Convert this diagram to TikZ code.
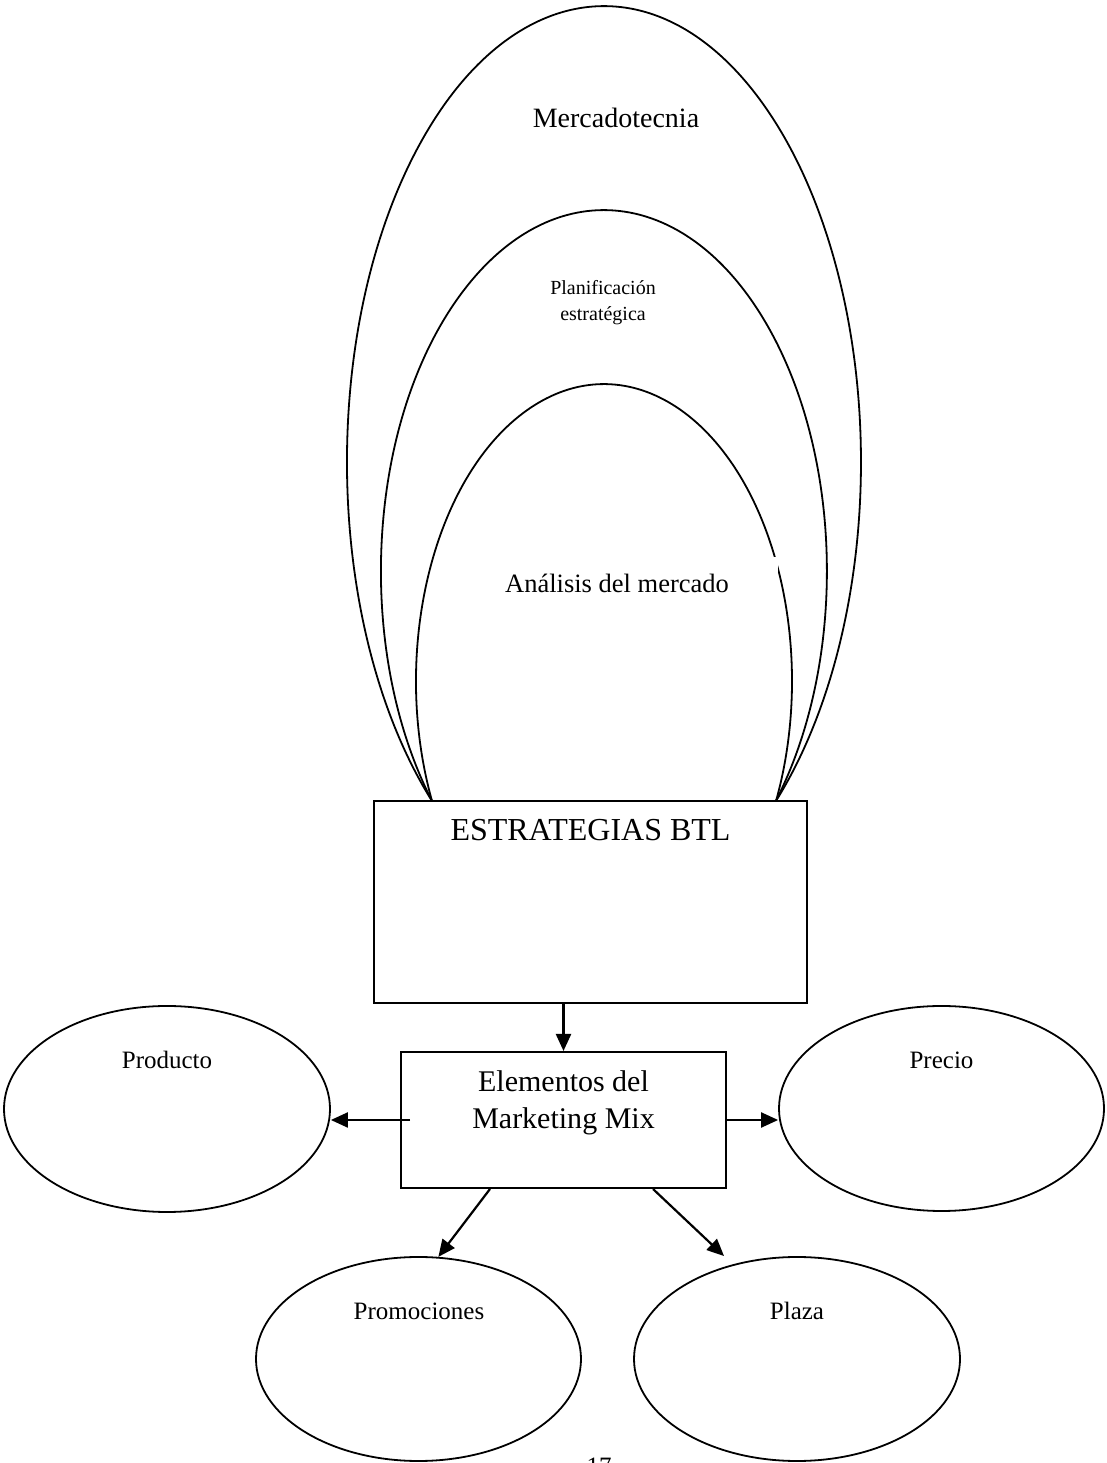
\documentclass[tikz,border=0pt]{standalone}
\usepackage{fontspec}
\setmainfont{Liberation Serif}
\usetikzlibrary{arrows.meta,shapes.geometric,calc}
\begin{document}
\begin{tikzpicture}[x=1pt,y=1pt,
  boxnode/.style={draw, line width=2pt, inner sep=0pt},
  oval/.style={draw, ellipse, line width=1.8pt, inner sep=0pt,
               minimum width=325pt, minimum height=205pt},
  ring/.style={line width=1.8pt},
  txt/.style={anchor=base, inner sep=0pt, font=\fontsize{#1}{#1}\selectfont},
  arr/.style={-{Triangle[length=17pt,width=15pt]}, line width=2.2pt}]
\useasboundingbox (0,0) rectangle (1107,1463);

% central boxes
\node[boxnode, minimum width=433pt, minimum height=202pt] (btl) at (590.5,561) {};
\node[boxnode, minimum width=325pt, minimum height=136pt] (mix) at (563.5,343) {};

% nested arcs resting on the top of the BTL box
\coordinate (footL) at (432,662);
\draw[ring] (footL) arc[start angle=228, end angle=-48, x radius=257, y radius=456];
\draw[ring] (footL) arc[start angle=219.56, end angle=-39.56, x radius=223, y radius=361];
\draw[ring] (footL) arc[start angle=203.8, end angle=-23.8, x radius=188, y radius=297];

% white backing behind the inner label
\fill[white] (460,906) rectangle (778,860);

\node[txt=28] (mkt) at (616,1335) {Mercadotecnia};
\node[anchor=base, inner sep=0pt, align=center, font=\fontsize{20}{25.5}\selectfont]
  (plan) at (603,1142.5) {Planificación\\estratégica};
\node[txt=26.5] (analisis) at (617,870.3) {Análisis del mercado};

\node[txt=32] (btltext) at (590.5,622) {ESTRATEGIAS BTL};
\node[anchor=base, inner sep=0pt, align=center, font=\fontsize{30}{37}\selectfont]
  (mixtext) at (563.5,334) {Elementos del\\Marketing Mix};

% the four elements
\node[oval, minimum width=326pt, minimum height=206pt] (prod) at (167,354) {};
\node[oval] (precio) at (941.5,354.5) {};
\node[oval, minimum height=204pt] (promo) at (418.5,104) {};
\node[oval, minimum width=326pt, minimum height=204pt] (plaza) at (797,104) {};

\node[txt=25] (prodtext) at (167,394) {Producto};
\node[txt=25] (preciotext) at (941.5,394) {Precio};
\node[txt=25] (promotext) at (419,143) {Promociones};
\node[txt=25] (plazatext) at (797,143) {Plaza};

% connectors
\coordinate (plazaend) at (724,207);
\draw[arr] (btl.south -| mix.north) -- (mix.north);
\draw[arr] ($(mix.west)+(10,0)$) -- (mix.west -| prod.east);
\draw[arr] (mix.east) -- (mix.east -| precio.west);
\draw[arr] ($(mix.south west)+(90,0)$) -- (promo.79);
\draw[arr] ($(mix.south west)+(253,0)$) -- (plazaend);

% page number
\node[txt=25] (pagenum) at (599,-11) {17};
\end{tikzpicture}
\end{document}
